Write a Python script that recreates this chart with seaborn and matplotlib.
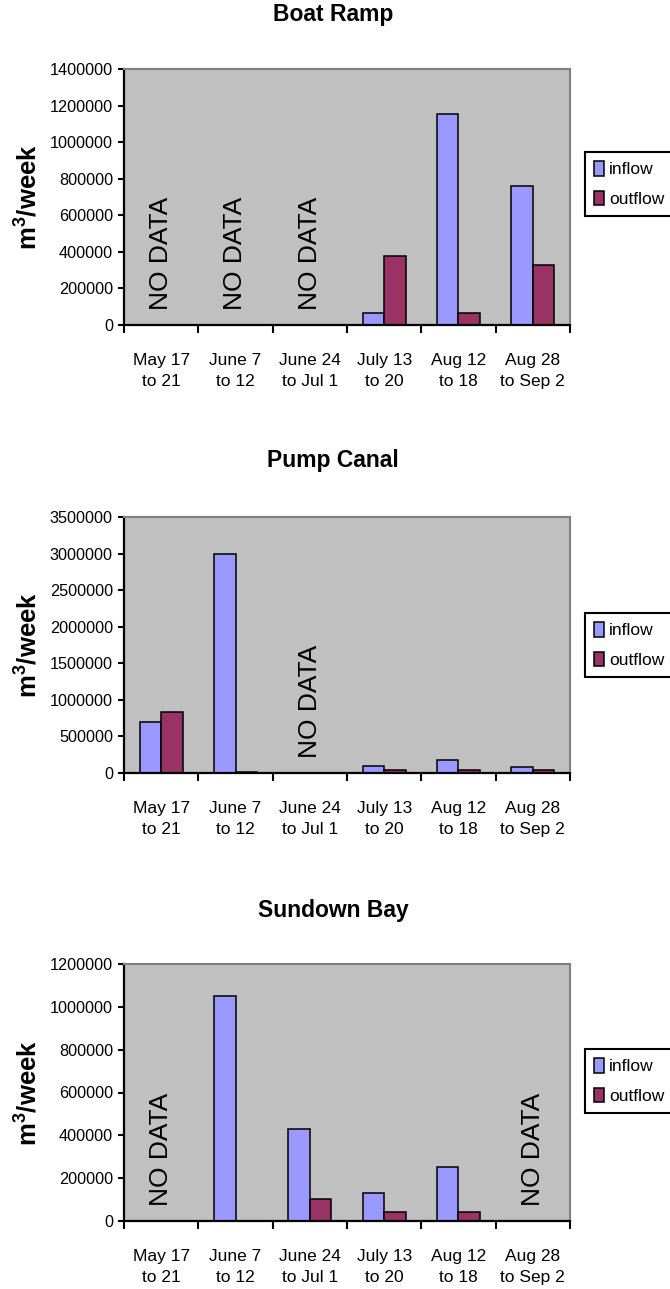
import numpy as np
import pandas as pd
import matplotlib
matplotlib.use("Agg")
import matplotlib.pyplot as plt
import matplotlib.transforms as mtransforms
import seaborn as sns

# ---------------- data ----------------
categories = ["May 17\nto 21", "June 7\nto 12", "June 24\nto Jul 1",
              "July 13\nto 20", "Aug 12\nto 18", "Aug 28\nto Sep 2"]
series = ["inflow", "outflow"]

boat_inflow = [np.nan, np.nan, np.nan, 65000, 1155000, 760000]
boat_outflow = [np.nan, np.nan, np.nan, 375000, 67000, 330000]

pump_inflow = [700000, 3000000, np.nan, 100000, 180000, 77000]
pump_outflow = [840000, 14000, np.nan, 45000, 45000, 45000]

sundown_inflow = [np.nan, 1050000, 430000, 132000, 251000, np.nan]
sundown_outflow = [np.nan, 0, 101000, 44000, 44000, np.nan]

titles = ["Boat Ramp", "Pump Canal", "Sundown Bay"]
no_data_index = [[0, 1, 2], [2], [0, 5]]
y_max = [1400000, 3500000, 1200000]
y_step = [200000, 500000, 200000]
ylabel = r"m$^{\mathbf{3}}$/week"

# ---------------- style ----------------
sns.set_style("white")
plt.rcParams["font.family"] = ["Liberation Sans", "DejaVu Sans"]
plt.rcParams["mathtext.fontset"] = "custom"
plt.rcParams["mathtext.rm"] = "Liberation Sans"
plt.rcParams["mathtext.bf"] = "Liberation Sans:bold"
for key in ["text.color", "axes.labelcolor", "xtick.color", "ytick.color"]:
    plt.rcParams[key] = "black"

W, H = 670, 1289
fig = plt.figure(figsize=(W / 100, H / 100), dpi=100)

# axes boxes in pixels (left, top, right, bottom)
boxes = [(124, 69, 570, 325), (124, 517, 570, 773), (124, 964, 570, 1221)]
title_base = [21, 467, 917]
legend_cy = [184, 645, 1081]

panels = [(boat_inflow, boat_outflow), (pump_inflow, pump_outflow),
          (sundown_inflow, sundown_outflow)]

for i, (inflow, outflow) in enumerate(panels):
    l, t, r, b = boxes[i]
    ax = fig.add_axes([l / W, 1 - b / H, (r - l) / W, (b - t) / H])
    df = pd.DataFrame({
        "period": categories * 2,
        "series": [series[0]] * len(categories) + [series[1]] * len(categories),
        "value": list(inflow) + list(outflow),
    })
    sns.barplot(data=df, x="period", y="value", hue="series",
                order=categories, hue_order=series,
                palette=["#9999FF", "#993366"], saturation=1,
                width=0.58, gap=0, edgecolor="black", linewidth=1.1,
                errorbar=None, ax=ax)
    ax.set_facecolor("#C0C0C0")
    ax.set_xlim(-0.5, len(categories) - 0.5)
    ax.set_ylim(0, y_max[i])
    for s in ["top", "right"]:
        ax.spines[s].set_color("#808080")
        ax.spines[s].set_linewidth(1.5)
    for s in ["left", "bottom"]:
        ax.spines[s].set_color("black")
        ax.spines[s].set_linewidth(1.6)

    major = np.arange(-0.5, len(categories), 1.0)
    ax.set_xticks(major)
    ax.set_xticklabels([""] * len(major))
    ax.set_xticks(np.arange(len(categories)), minor=True)
    ax.set_xticklabels(categories, minor=True, fontsize=12.5, linespacing=1.5,
                       color="black")
    ax.tick_params(axis="x", which="major", length=6, width=1.5,
                   direction="out", color="black", bottom=True)
    ax.tick_params(axis="x", which="minor", length=0, pad=20, bottom=True)

    yt = list(range(0, y_max[i] + 1, y_step[i]))
    ax.set_yticks(yt)
    ax.set_yticklabels([str(v) for v in yt], fontsize=11.7, color="black")
    ax.tick_params(axis="y", which="major", length=4, width=1.5,
                   direction="out", color="black", left=True, pad=4)
    ax.set_xlabel("")
    ax.set_ylabel("")

    trans = mtransforms.blended_transform_factory(ax.transData, ax.transAxes)
    for k in no_data_index[i]:
        ax.text(k, 0.06, "NO DATA", transform=trans, rotation=90,
                ha="center", va="bottom", fontsize=19, color="black")

    handles, labels = ax.get_legend_handles_labels()
    leg = ax.legend(handles, labels, loc="center left",
                    bbox_to_anchor=(585 / W, 1 - legend_cy[i] / H),
                    bbox_transform=fig.transFigure, frameon=True,
                    fancybox=False, shadow=False, edgecolor="black",
                    facecolor="white", framealpha=1, fontsize=12.5,
                    handlelength=0.6, handleheight=0.95, handletextpad=0.3,
                    labelspacing=0.75, borderpad=0.5, borderaxespad=0)
    leg.get_frame().set_linewidth(1.5)
    for txt in leg.get_texts():
        txt.set_color("black")

    fig.text(333 / W, 1 - title_base[i] / H, titles[i], ha="center",
             va="baseline", fontsize=16.5, fontweight="bold", color="black")
    fig.text(27 / W, 1 - ((t + b) / 2) / H, ylabel, rotation=90,
             ha="center", va="center", fontsize=18.5, fontweight="bold",
             color="black")

fig.savefig("out.png", dpi=100)
